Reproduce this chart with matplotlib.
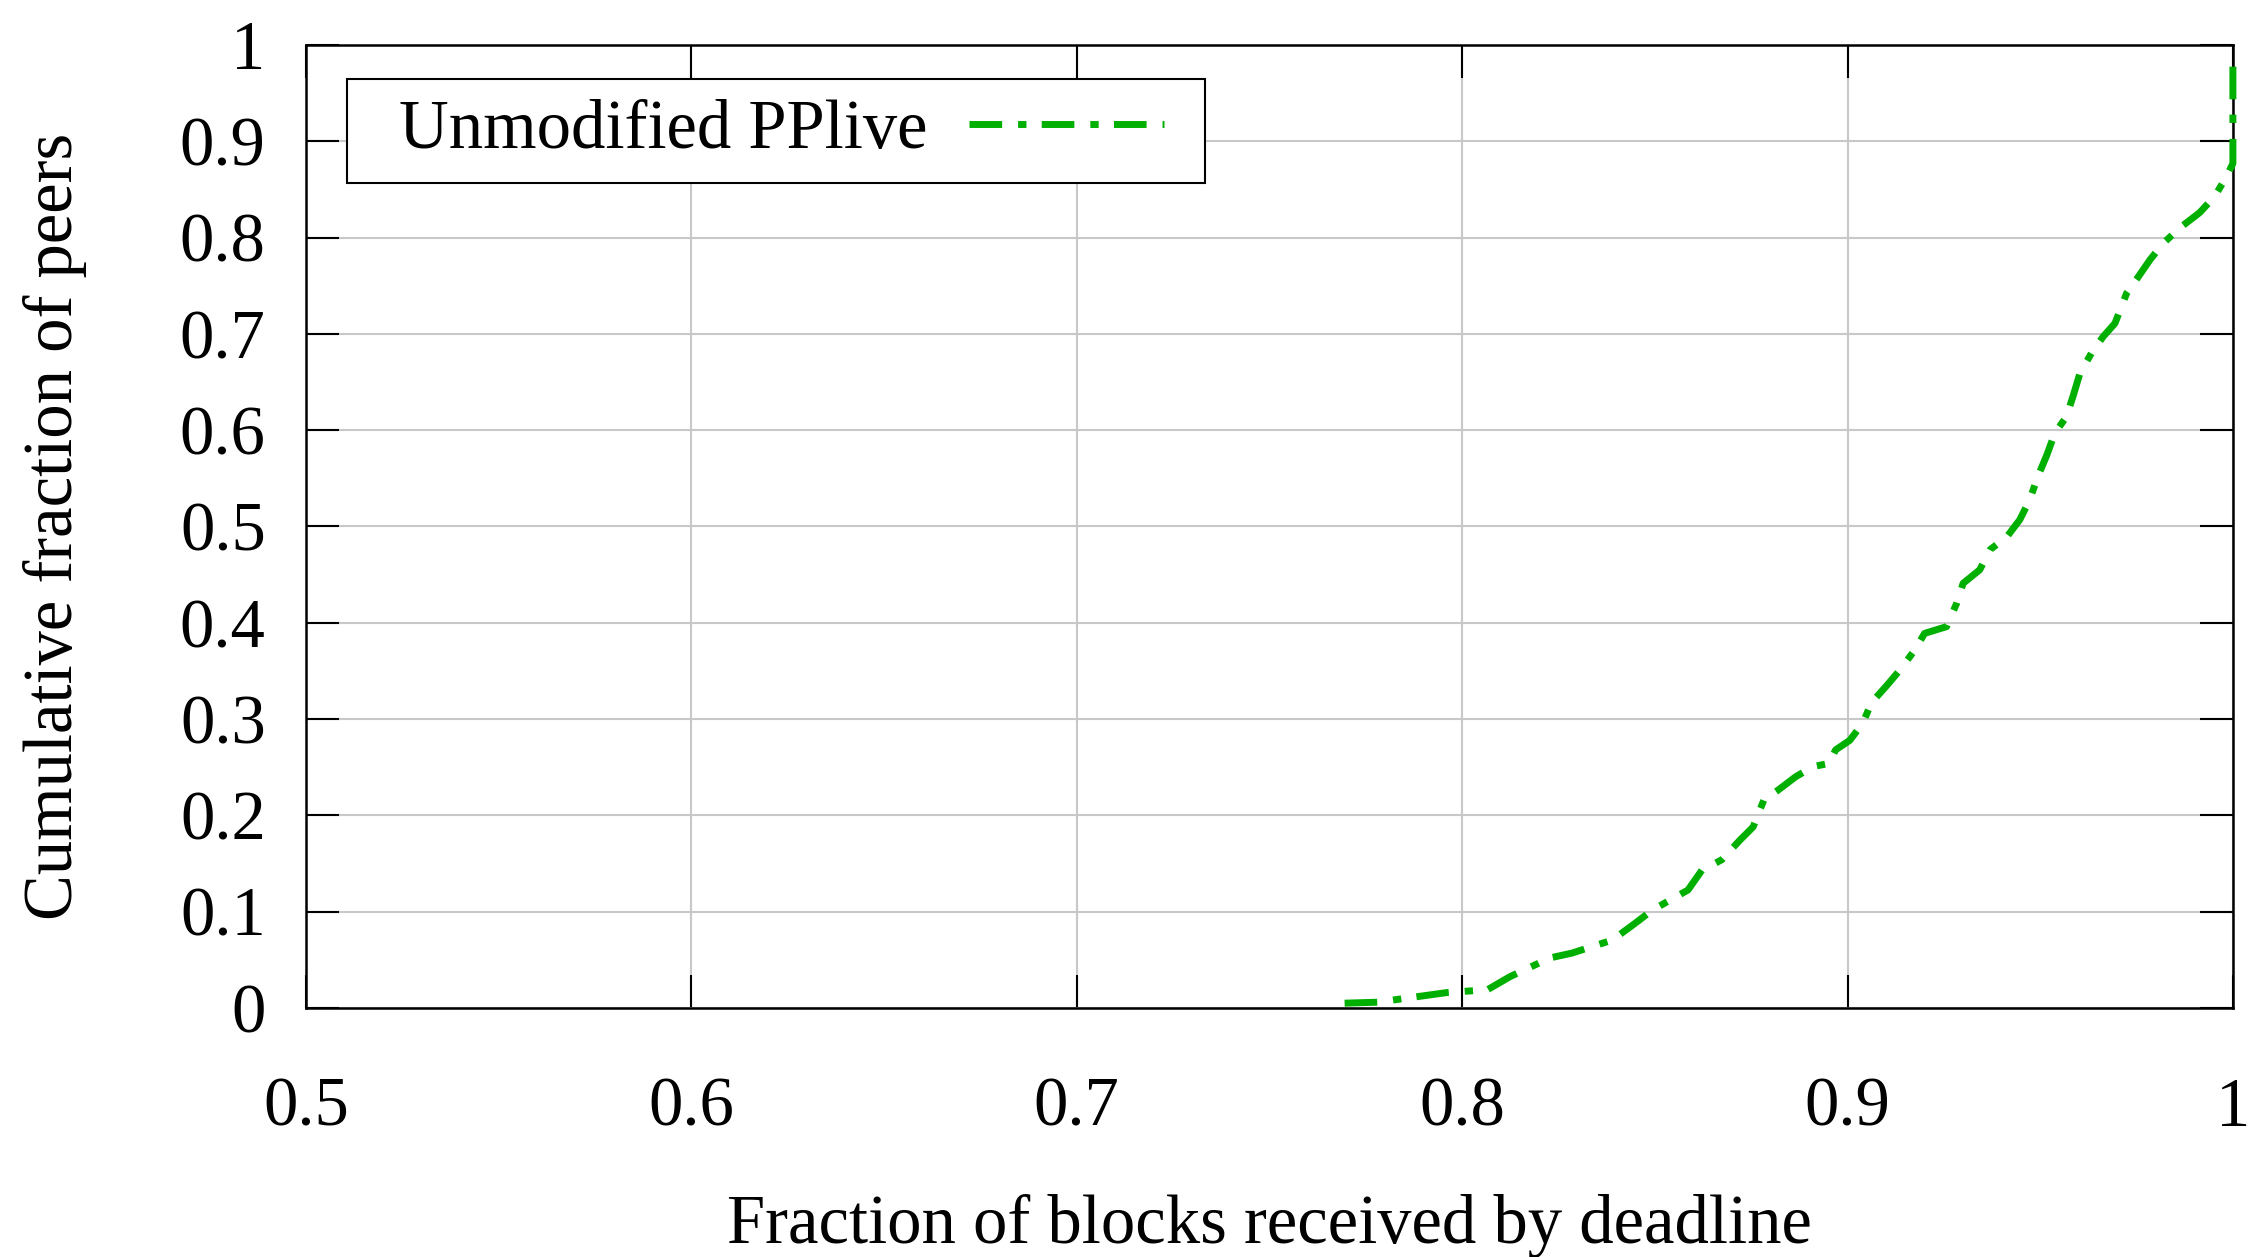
import matplotlib
matplotlib.use("Agg")
import matplotlib.pyplot as plt
from matplotlib.patches import Rectangle

# CDF of fraction of blocks received by deadline
frac_blocks = [0.7695, 0.778, 0.796, 0.8066, 0.8124, 0.8228, 0.8285, 0.839, 0.8449,
               0.8494, 0.8586, 0.8622, 0.8674, 0.872, 0.8755, 0.8783, 0.8819, 0.8865,
               0.891, 0.8952, 0.8969, 0.9006, 0.904, 0.9062, 0.910, 0.9136, 0.9175,
               0.920, 0.9257, 0.9283, 0.930, 0.9343, 0.937, 0.9413, 0.9447, 0.9473,
               0.9494, 0.9517, 0.9538, 0.9568, 0.9585, 0.9603, 0.9633, 0.9663, 0.9694,
               0.9724, 0.9754, 0.9785, 0.9819, 0.9862, 0.9914, 0.9953, 0.9983, 1.0, 1.0]
cum_peers = [0.005, 0.006, 0.016, 0.019, 0.0325, 0.052, 0.057, 0.0706, 0.088,
             0.1018, 0.1225, 0.143, 0.154, 0.174, 0.188, 0.216, 0.226, 0.240,
             0.2506, 0.254, 0.268, 0.278, 0.296, 0.317, 0.334, 0.351, 0.372,
             0.389, 0.396, 0.420, 0.441, 0.455, 0.476, 0.489, 0.507, 0.528,
             0.552, 0.574, 0.597, 0.614, 0.635, 0.659, 0.680, 0.697, 0.711,
             0.742, 0.759, 0.777, 0.794, 0.810, 0.826, 0.843, 0.863, 0.877, 0.99]
series_label = "Unmodified PPlive"

xticks = [0.5, 0.6, 0.7, 0.8, 0.9, 1.0]
xticklabels = ["0.5", "0.6", "0.7", "0.8", "0.9", "1"]
yticks = [0, 0.1, 0.2, 0.3, 0.4, 0.5, 0.6, 0.7, 0.8, 0.9, 1.0]
yticklabels = ["0", "0.1", "0.2", "0.3", "0.4", "0.5", "0.6", "0.7", "0.8", "0.9", "1"]

plt.rcParams['font.family'] = ['Liberation Serif', 'DejaVu Serif']
plt.rcParams['font.size'] = 49.4

fig = plt.figure(figsize=(22.55, 12.57), dpi=100)
ax = fig.add_axes([0.1357, 0.1981, 0.8545, 0.7661])

ax.plot(frac_blocks, cum_peers, color='#00b000', lw=5,
        linestyle=(0, (4.7, 2.3, 1.2, 2.2)), label=series_label,
        clip_on=False, zorder=5)

ax.set_xlim(0.5, 1.0)
ax.set_ylim(0, 1.0)
ax.set_xticks(xticks)
ax.set_xticklabels(xticklabels)
ax.set_yticks(yticks)
ax.set_yticklabels(yticklabels)

ax.tick_params(direction='in', length=24, width=1.5, top=True, right=True,
               labelsize=49.4)
ax.tick_params(axis='x', pad=50)
ax.tick_params(axis='y', pad=29)

ax.grid(True, color='#c8c8c8', lw=1.5)
for s in ax.spines.values():
    s.set_linewidth(1.8)

ax.set_xlabel("Fraction of blocks received by deadline", labelpad=38)
ax.set_ylabel("Cumulative fraction of peers", labelpad=67)

# gnuplot-style key: box drawn separately so the padding can be wider than tall
key_box = Rectangle((0.0213, 0.8567), 0.4453, 0.108, transform=ax.transAxes,
                    facecolor='white', edgecolor='black', lw=1.5, zorder=8)
ax.add_patch(key_box)
leg = ax.legend(loc='center left', bbox_to_anchor=(0.0483, 0.9107),
                borderaxespad=0, borderpad=0, markerfirst=False, frameon=False,
                handlelength=2.85, handletextpad=0.6, fontsize=49.4)
leg.set_zorder(10)

fig.savefig("out.png", dpi=100)
